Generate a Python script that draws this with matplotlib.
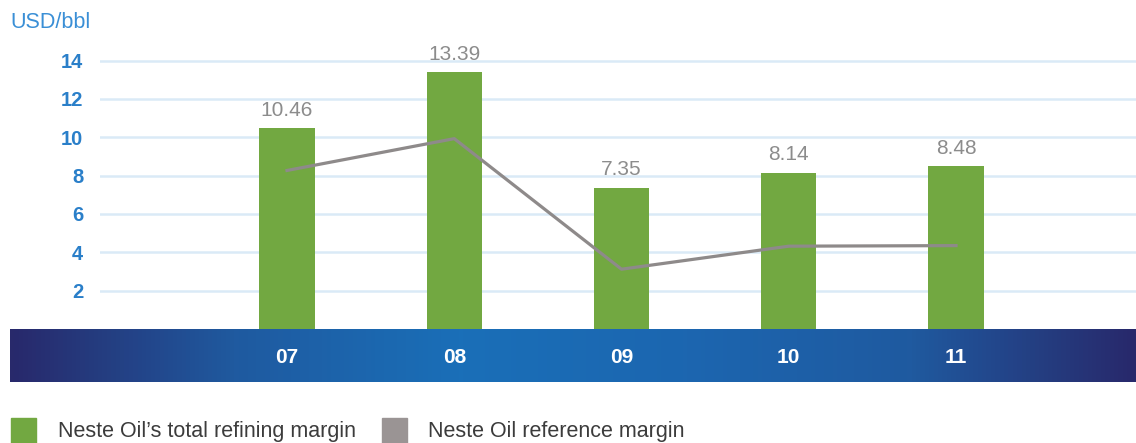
import matplotlib.pyplot as plt
import numpy as np
from matplotlib.colors import LinearSegmentedColormap
from matplotlib.patches import Rectangle

# Data
years = ["07", "08", "09", "10", "11"]
total_margin = [10.46, 13.39, 7.35, 8.14, 8.48]
reference_margin = [8.27, 9.93, 3.12, 4.32, 4.35]
y_ticks = [2, 4, 6, 8, 10, 12, 14]

W, H = 1136, 443
fig = plt.figure(figsize=(W / 100, H / 100), dpi=100)
plt.rcParams['font.family'] = ['Liberation Sans', 'DejaVu Sans']

# pixel layout
x0_px, step_px = 287, 167.25
plot_left, plot_right = 100, 1136
zero_px, top_px = 329, 40
unit_px = 19.17

def px_to_idx(px):
    return (px - x0_px) / step_px

ax = fig.add_axes([plot_left / W, (H - zero_px) / H, (plot_right - plot_left) / W, (zero_px - top_px) / H])
ax.set_xlim(px_to_idx(plot_left), px_to_idx(plot_right))
ax.set_ylim(0, (zero_px - top_px) / unit_px)

x = np.arange(len(years))
for t in y_ticks:
    ax.axhline(t, color='#daeaf7', lw=1.8, zorder=0)
ax.bar(x, total_margin, width=0.33, color='#72a841', zorder=2)
ax.plot(x, reference_margin, color='#8e8a8a', lw=2.3, zorder=3)
for xi, v in zip(x, total_margin):
    ax.text(xi, v + 0.95, f"{v:.2f}", ha='center', va='center', color='#8c8c8c', fontsize=15)

ax.set_xticks([])
ax.set_yticks(y_ticks)
ax.set_yticklabels([str(t) for t in y_ticks], color='#2a7fc9', fontsize=14.5, fontweight='bold')
ax.tick_params(axis='y', length=0, pad=12)
for s in ax.spines.values():
    s.set_visible(False)

# gradient band with years
band_left, band_right, band_top, band_bot = 10, 1136, 329, 382
bax = fig.add_axes([band_left / W, (H - band_bot) / H, (band_right - band_left) / W, (band_bot - band_top) / H])
bax.set_xlim(px_to_idx(band_left), px_to_idx(band_right))
bax.set_ylim(0, 1)
cmap = LinearSegmentedColormap.from_list('band', ['#28296b', '#1f5aa0', '#1a6fb8', '#1c66b0', '#1f5aa0', '#28296b'])
grad = np.linspace(0, 1, 256).reshape(1, -1)
bax.imshow(grad, cmap=cmap, aspect='auto',
           extent=[px_to_idx(band_left), px_to_idx(band_right), 0, 1])
for xi, yr in zip(x, years):
    bax.text(xi, 0.47, yr, ha='center', va='center', color='white', fontsize=15, fontweight='bold')
bax.axis('off')

# unit label
fig.text(10 / W, 1 - 23 / H, "USD/bbl", color='#3a8fd6', fontsize=15.5, va='center', ha='left')

# legend
lax = fig.add_axes([0, 0, 1, 1], facecolor='none')
lax.set_xlim(0, W)
lax.set_ylim(H, 0)
lax.axis('off')
lax.add_patch(Rectangle((11, 418), 25, 30, color='#72a841'))
lax.text(58, 431, "Neste Oil\u2019s total refining margin", va='center', ha='left', fontsize=15.5, color='#3c3c3c')
lax.add_patch(Rectangle((382, 418), 25, 30, color='#9a9494'))
lax.text(428, 431, "Neste Oil reference margin", va='center', ha='left', fontsize=15.5, color='#3c3c3c')

fig.savefig('out.png', dpi=100)
